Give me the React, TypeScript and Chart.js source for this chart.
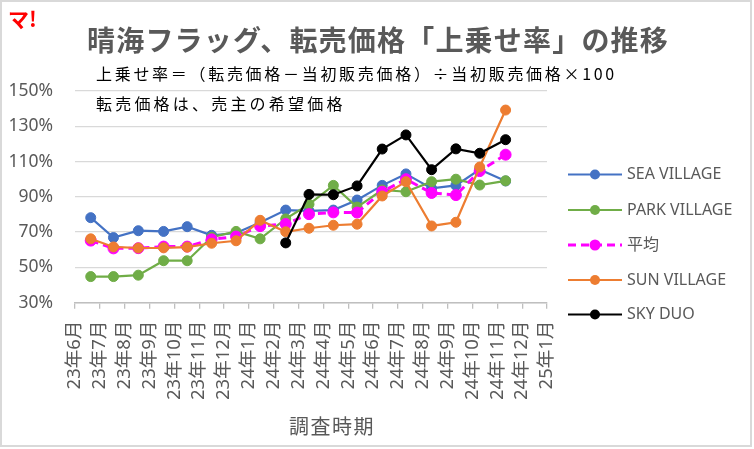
import React, { useEffect, useRef } from 'react';
import { Chart, registerables } from 'chart.js';

Chart.register(...registerables);

// ---- data ----
const monthLabels = [
  '23年6月', '23年7月', '23年8月', '23年9月', '23年10月', '23年11月', '23年12月',
  '24年1月', '24年2月', '24年3月', '24年4月', '24年5月', '24年6月', '24年7月',
  '24年8月', '24年9月', '24年10月', '24年11月', '24年12月', '25年1月',
];

const surveyDates = [
  '2023-06-20', '2023-07-18', '2023-08-18', '2023-09-18', '2023-10-17', '2023-11-16',
  '2023-12-16', '2024-01-15', '2024-02-15', '2024-03-14', '2024-04-13', '2024-05-12',
  '2024-06-12', '2024-07-11', '2024-08-12', '2024-09-11', '2024-10-10', '2024-11-11',
];

const seaVillage = [78.2, 66.9, 70.8, 70.4, 73.1, 68.2, 69.5, 75.5, 82.5, 82.0, 82.5, 88.2, 96.5, 103.0, 94.8, 96.5, 105.5, 99.0];
const parkVillage = [44.8, 44.8, 45.6, 53.8, 53.8, 67.1, 70.4, 66.2, 77.5, 85.8, 96.5, 84.2, 93.9, 92.9, 98.6, 100.0, 96.7, 99.1];
const average = [65.2, 60.8, 60.9, 61.8, 61.8, 65.9, 67.5, 73.4, 74.6, 80.2, 81.2, 81.1, 92.9, 100.0, 92.2, 91.0, 104.6, 113.9];
const sunVillage = [66.2, 61.6, 61.0, 61.1, 61.5, 63.7, 65.1, 76.7, 70.2, 72.2, 73.9, 74.5, 90.5, 98.6, 73.5, 75.6, 106.9, 139.2];
const skyDuo: (number | null)[] = [null, null, null, null, null, null, null, null, 63.9, 91.4, 91.2, 96.2, 117.1, 125.1, 105.4, 117.2, 114.7, 122.4];

const seriesNames = ['SEA VILLAGE', 'PARK VILLAGE', '平均', 'SUN VILLAGE', 'SKY DUO'];
const yTicks = [30, 50, 70, 90, 110, 130, 150];

const TITLE = '晴海フラッグ、転売価格「上乗せ率」の推移';
const NOTE1 = '上乗せ率＝（転売価格－当初販売価格）÷当初販売価格×100';
const NOTE2 = '転売価格は、売主の希望価格';
const AXIS_TITLE = '調査時期';
const LOGO = 'マ!';

// ---- helpers ----
function monthPos(d: string): number {
  const [y, m, day] = d.split('-').map(Number);
  const idx = (y - 2023) * 12 + (m - 6);
  const dim = new Date(y, m, 0).getDate();
  return idx + (day - 1) / dim;
}

function toPoints(values: (number | null)[]) {
  const pts: { x: number; y: number }[] = [];
  values.forEach((v, i) => {
    if (v !== null && v !== undefined) pts.push({ x: monthPos(surveyDates[i]), y: v });
  });
  return pts;
}

const W = 754;
const H = 449;
const PLOT_LEFT = 75;
const PLOT_RIGHT = 547;
const PLOT_TOP = 91;
const PLOT_BOTTOM = 302.7;

const GRAY_TEXT = '#595959';
const LATIN = '"Noto Sans", "Noto Sans CJK JP", sans-serif';
const CJK = '"Noto Sans CJK JP", "Noto Sans", sans-serif';

const overlayPlugin = {
  id: 'overlay',
  beforeDraw(chart: any) {
    const ctx = chart.ctx as CanvasRenderingContext2D;
    ctx.save();
    ctx.fillStyle = '#ffffff';
    ctx.fillRect(0, 0, chart.width, chart.height);
    ctx.restore();
  },
  afterDraw(chart: any) {
    const ctx = chart.ctx as CanvasRenderingContext2D;
    const c: any = ctx;
    ctx.save();

    // logo
    ctx.fillStyle = '#ff0000';
    ctx.font = `bold 21px ${CJK}`;
    ctx.textAlign = 'left';
    ctx.textBaseline = 'middle';
    ctx.fillText(LOGO, 8, 19);

    // title
    c.letterSpacing = '1.2px';
    ctx.fillStyle = GRAY_TEXT;
    ctx.font = `bold 28px ${CJK}`;
    ctx.textAlign = 'center';
    ctx.fillText(TITLE, 378, 40);

    // notes
    c.letterSpacing = '2.7px';
    ctx.fillStyle = '#000000';
    ctx.font = `16px ${CJK}`;
    ctx.textAlign = 'left';
    ctx.fillText(NOTE1, 96, 74);
    c.letterSpacing = '3.2px';
    ctx.fillText(NOTE2, 96, 104);

    // axis title
    c.letterSpacing = '1.5px';
    ctx.fillStyle = GRAY_TEXT;
    ctx.font = `20px ${CJK}`;
    ctx.textAlign = 'center';
    ctx.fillText(AXIS_TITLE, 332, 426);
    c.letterSpacing = '0px';

    // legend
    const legendY = [174.5, 210, 245, 280, 314.5];
    chart.data.datasets.forEach((ds: any, i: number) => {
      const y = legendY[i];
      ctx.save();
      ctx.strokeStyle = ds.borderColor;
      ctx.lineWidth = ds.borderWidth;
      ctx.setLineDash(ds.borderDash || []);
      ctx.beginPath();
      ctx.moveTo(568, y);
      ctx.lineTo(622, y);
      ctx.stroke();
      ctx.setLineDash([]);
      ctx.fillStyle = ds.pointBackgroundColor;
      ctx.beginPath();
      ctx.arc(595, y, ds.legendRadius, 0, Math.PI * 2);
      ctx.fill();
      ctx.restore();
      ctx.fillStyle = GRAY_TEXT;
      ctx.font = `16px ${LATIN}`;
      ctx.textAlign = 'left';
      ctx.textBaseline = 'middle';
      ctx.fillText(ds.label, 627, y);
    });

    // outer border
    ctx.strokeStyle = '#d9d9d9';
    ctx.lineWidth = 2;
    ctx.strokeRect(1, 1, 750, 445);
    ctx.restore();
  },
};

function makeDataset(label: string, values: (number | null)[], color: string, order: number, extra: any = {}) {
  return {
    label,
    data: toPoints(values),
    borderColor: color,
    backgroundColor: color,
    pointBackgroundColor: color,
    pointBorderColor: color,
    borderWidth: 2.2,
    pointRadius: 5,
    pointBorderWidth: 1,
    legendRadius: 5,
    tension: 0,
    order,
    ...extra,
  };
}

export default function App() {
  const canvasRef = useRef<HTMLCanvasElement | null>(null);

  useEffect(() => {
    document.body.style.margin = '0';
    const canvas = canvasRef.current;
    if (!canvas) return;
    const chart = new Chart(canvas, {
      type: 'line',
      data: {
        datasets: [
          makeDataset(seriesNames[0], seaVillage, '#4472c4', 5),
          makeDataset(seriesNames[1], parkVillage, '#70ad47', 4),
          makeDataset(seriesNames[2], average, '#ff00ff', 3, { borderDash: [8, 5], borderWidth: 3, pointRadius: 5.5, legendRadius: 5.5 }),
          makeDataset(seriesNames[3], sunVillage, '#ed7d31', 2),
          makeDataset(seriesNames[4], skyDuo, '#000000', 1),
        ] as any,
      },
      options: {
        responsive: false,
        animation: false,
        events: [],
        layout: { padding: { left: 0, top: PLOT_TOP, right: W - PLOT_RIGHT, bottom: 0 } },
        plugins: {
          legend: { display: false },
          tooltip: { enabled: false },
          title: { display: false },
        },
        scales: {
          x: {
            type: 'linear',
            min: 0,
            max: monthLabels.length - 1,
            afterFit: (s: any) => { s.height = H - PLOT_BOTTOM; },
            afterBuildTicks: (s: any) => { s.ticks = monthLabels.map((_, i) => ({ value: i })); },
            ticks: {
              autoSkip: false,
              minRotation: 90,
              maxRotation: 90,
              padding: 12,
              color: GRAY_TEXT,
              font: { family: LATIN, size: 18.5 },
              callback: (v: any) => monthLabels[Math.round(Number(v))],
            },
            grid: { drawOnChartArea: false, drawTicks: true, tickLength: 6, color: '#bfbfbf', lineWidth: 1.3 },
            border: { display: true, color: '#bfbfbf', width: 1.5 },
          },
          y: {
            min: yTicks[0],
            max: yTicks[yTicks.length - 1],
            afterFit: (s: any) => { s.width = PLOT_LEFT; },
            afterBuildTicks: (s: any) => { s.ticks = yTicks.map((v) => ({ value: v })); },
            ticks: {
              padding: 22,
              color: GRAY_TEXT,
              font: { family: LATIN, size: 17.5 },
              callback: (v: any) => `${v}%`,
            },
            grid: { color: '#d9d9d9', lineWidth: 1.3, drawTicks: false },
            border: { display: false },
          },
        },
      } as any,
      plugins: [overlayPlugin],
    });
    return () => chart.destroy();
  }, []);

  return (
    <div style={{ position: 'fixed', left: 0, top: 0, width: W, height: H, background: '#fff' }}>
      <canvas ref={canvasRef} width={W} height={H} style={{ display: 'block', width: W, height: H }} />
    </div>
  );
}
